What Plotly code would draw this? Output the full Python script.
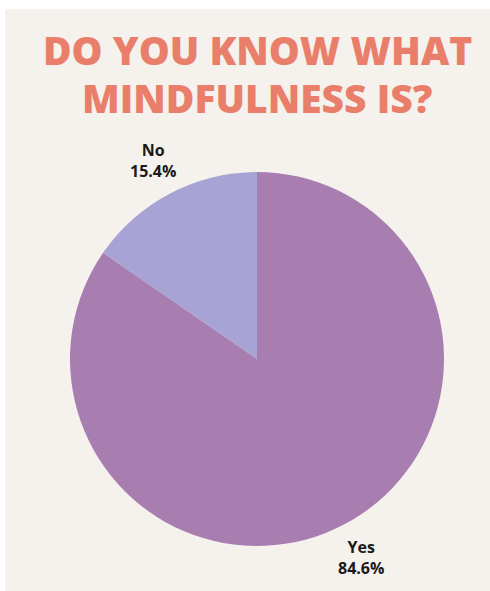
import math
import plotly.graph_objects as go

# Survey answers (counts of respondents)
answers = ["Yes", "No"]
counts = [11, 2]
slice_colors = ["#a87eb0", "#a7a3d4"]

title_lines = ["DO YOU KNOW WHAT", "MINDFULNESS IS?"]

W, H = 490, 591
BG = "#f5f1ec"

# pie geometry in pixels
CX, CY, R = 257, 359, 187
LABEL_DIST = 1.2 * R

fig = go.Figure(
    go.Pie(
        labels=answers,
        values=counts,
        sort=False,
        direction="clockwise",
        rotation=0,
        marker=dict(colors=slice_colors, line=dict(width=0)),
        textinfo="none",
        showlegend=False,
        hoverinfo="label+percent",
        domain=dict(x=[(CX - R) / W, (CX + R) / W], y=[(H - CY - R) / H, (H - CY + R) / H]),
    )
)

# slice labels placed just outside each slice's mid-angle (clockwise from 12 o'clock)
total = sum(counts)
annotations = []
cum = 0
for name, v in zip(answers, counts):
    frac = v / total
    mid = (cum + frac / 2) * 2 * math.pi
    cum += frac
    px = CX + LABEL_DIST * math.sin(mid)
    py = CY - LABEL_DIST * math.cos(mid)
    annotations.append(dict(
        x=px / W, y=1 - py / H, xref="paper", yref="paper",
        text=f"<b>{name}</b><br><b>{frac * 100:.1f}%</b>",
        showarrow=False, xanchor="center", yanchor="middle", align="center",
        font=dict(family="Open Sans", size=16, color="#1a1a1a"),
    ))

# two-line heading, each line set separately for tighter leading
for i, line in enumerate(title_lines):
    annotations.append(dict(
        x=257 / W, y=1 - (50 + 47 * i) / H, xref="paper", yref="paper",
        xanchor="center", yanchor="middle", showarrow=False,
        text=line,
        font=dict(family="Open Sans", size=39, color="#e97f6a", weight=800),
    ))

fig.update_layout(
    width=W,
    height=H,
    margin=dict(l=0, r=0, t=0, b=0),
    paper_bgcolor=BG,
    plot_bgcolor=BG,
    annotations=annotations,
    shapes=[
        # white frame strips along the top and left edges
        dict(type="rect", xref="paper", yref="paper", x0=0, x1=1, y0=1 - 9 / H, y1=1,
             fillcolor="white", line=dict(width=0), layer="below"),
        dict(type="rect", xref="paper", yref="paper", x0=0, x1=5 / W, y0=0, y1=1,
             fillcolor="white", line=dict(width=0), layer="below"),
    ],
)

fig.write_html("out.html")
